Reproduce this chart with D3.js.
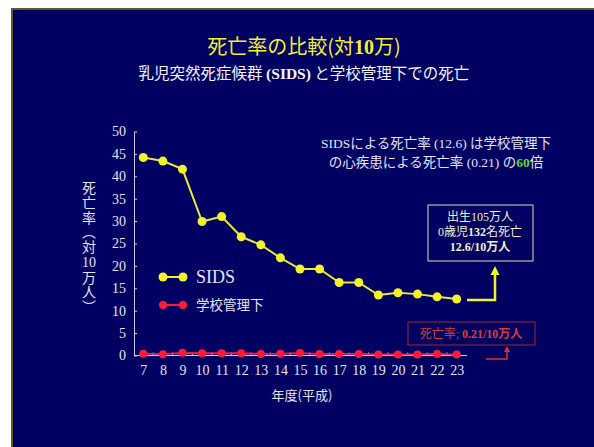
<!DOCTYPE html>
<html lang="ja">
<head>
<meta charset="utf-8">
<script src="https://cdn.jsdelivr.net/npm/d3@7"></script>
<style>
  html, body { margin: 0; padding: 0; background: #ffffff; }
  svg { display: block; }
  .vlabel { writing-mode: vertical-rl; text-orientation: mixed; }
</style>
</head>
<body>
<svg id="chart" width="594" height="447"></svg>
<script>
// 年度（平成）
const years = [7, 8, 9, 10, 11, 12, 13, 14, 15, 16, 17, 18, 19, 20, 21, 22, 23];
// 乳児突然死症候群 (SIDS) の死亡率（対10万）
const sidsRates = [44.2, 43.4, 41.6, 29.9, 31.0, 26.5, 24.7, 21.8, 19.3, 19.3, 16.3, 16.3, 13.5, 14.0, 13.7, 13.1, 12.6];
// 学校管理下の心疾患による死亡率（対10万）
const schoolRates = [0.4, 0.3, 0.6, 0.5, 0.5, 0.5, 0.35, 0.4, 0.55, 0.35, 0.35, 0.35, 0.25, 0.25, 0.25, 0.35, 0.21];
const yTicks = [0, 5, 10, 15, 20, 25, 30, 35, 40, 45, 50];
const seriesNames = ["SIDS", "学校管理下"];

const svg = d3.select("#chart");
const navy = "#000062";
const yellow = "#f2f22a";
const red = "#ff1a3a";
const pale = "#e4e4f2";
const fontMix = '"Liberation Serif", "Noto Sans CJK JP", serif';
const fontJP = '"Noto Sans CJK JP", sans-serif';

// スライド背景
svg.append("rect")
  .attr("x", 12).attr("y", 9).attr("width", 600).attr("height", 460)
  .attr("fill", navy).attr("stroke", "#5c5a2c").attr("stroke-width", 2);

// タイトル
const title = svg.append("text")
  .attr("x", 304).attr("y", 54).attr("text-anchor", "middle")
  .attr("fill", yellow).attr("font-family", fontMix).attr("font-size", 20);
title.append("tspan").attr("font-family", fontJP).text("死亡率の比較");
title.append("tspan").attr("font-family", fontJP).text("(対");
title.append("tspan").attr("font-weight", "bold").text("10");
title.append("tspan").attr("font-family", fontJP).text("万)");

const sub = svg.append("text")
  .attr("x", 304).attr("y", 79).attr("text-anchor", "middle")
  .attr("fill", "#f4f4f8").attr("font-family", fontJP).attr("font-size", 15.5);
sub.append("tspan").text("乳児突然死症候群 ");
sub.append("tspan").attr("font-family", fontMix).attr("font-weight", "bold").text("(SIDS)");
sub.append("tspan").text(" と学校管理下での死亡");

// スケール
const x = d3.scaleLinear().domain([7, 23]).range([143.3, 456.7]);
const y = d3.scaleLinear().domain([0, 50]).range([355.5, 131.5]);

// Y軸
const yAxis = svg.append("g").attr("transform", "translate(134,0)")
  .call(d3.axisLeft(y).tickValues(yTicks).tickSizeInner(-3).tickSizeOuter(0).tickPadding(8));
yAxis.select(".domain").attr("stroke", "#c8c8de").attr("stroke-width", 1);
yAxis.selectAll(".tick line").attr("stroke", "#c8c8de");
yAxis.selectAll(".tick text").attr("fill", pale).attr("font-family", fontMix).attr("font-size", 14);

// X軸
const xAxis = svg.append("g").attr("transform", "translate(0,355.5)")
  .call(d3.axisBottom(x).tickValues(years).tickSize(0).tickPadding(10));
xAxis.select(".domain").attr("d", "M134,0H467").attr("stroke", "#d8c8e8").attr("stroke-width", 1.2);
xAxis.selectAll(".tick text").attr("fill", pale).attr("font-family", fontMix).attr("font-size", 14);
// 区切りの目盛り
xAxis.selectAll(".sep").data(years.slice(0, -1)).join("line")
  .attr("class", "sep")
  .attr("x1", d => (x(d) + x(d + 1)) / 2).attr("x2", d => (x(d) + x(d + 1)) / 2)
  .attr("y1", 0).attr("y2", -3).attr("stroke", "#c8c8de");

// 軸タイトル
svg.append("text")
  .attr("x", 302).attr("y", 400).attr("text-anchor", "middle")
  .attr("fill", pale).attr("font-family", fontJP).attr("font-size", 13)
  .text("年度(平成)");

// 縦書きの軸タイトル：縦組み部分の間に横組みの「10」を挟む
svg.append("text").attr("class", "vlabel")
  .attr("x", 89).attr("y", 181)
  .attr("fill", pale).attr("font-size", 14).attr("font-family", fontJP)
  .attr("letter-spacing", 0.6)
  .text("死亡率（対");
svg.append("text")
  .attr("x", 89).attr("y", 267).attr("text-anchor", "middle")
  .attr("fill", pale).attr("font-size", 14).attr("font-family", fontMix)
  .text("10");
svg.append("text").attr("class", "vlabel")
  .attr("x", 89).attr("y", 270.5)
  .attr("fill", pale).attr("font-size", 14).attr("font-family", fontJP)
  .attr("letter-spacing", 0.6)
  .text("万人）");

// 系列
const line = d3.line().x((d, i) => x(years[i])).y(d => y(d));

svg.append("path").datum(schoolRates)
  .attr("d", line).attr("fill", "none").attr("stroke", red).attr("stroke-width", 1.8);
svg.append("g").selectAll("circle").data(schoolRates).join("circle")
  .attr("cx", (d, i) => x(years[i])).attr("cy", d => y(d)).attr("r", 4).attr("fill", red);

svg.append("path").datum(sidsRates)
  .attr("d", line).attr("fill", "none").attr("stroke", "#e8e838").attr("stroke-width", 2);
svg.append("g").selectAll("circle").data(sidsRates).join("circle")
  .attr("cx", (d, i) => x(years[i])).attr("cy", d => y(d)).attr("r", 4.5).attr("fill", yellow);

// 凡例
const legend = [
  { name: seriesNames[0], color: yellow, ly: 277, size: 18, font: '"Liberation Serif", serif', r: 4.5 },
  { name: seriesNames[1], color: red, ly: 305, size: 13.5, font: fontJP, r: 4 }
];
const lg = svg.append("g").selectAll("g").data(legend).join("g");
lg.append("line").attr("x1", 163).attr("x2", 183).attr("y1", d => d.ly).attr("y2", d => d.ly)
  .attr("stroke", d => d.color).attr("stroke-width", 2);
lg.append("circle").attr("cx", 163).attr("cy", d => d.ly).attr("r", d => d.r).attr("fill", d => d.color);
lg.append("circle").attr("cx", 183).attr("cy", d => d.ly).attr("r", d => d.r).attr("fill", d => d.color);
lg.append("text").attr("x", 196).attr("y", d => d.ly).attr("dy", "0.36em")
  .attr("fill", pale).attr("font-family", d => d.font).attr("font-size", d => d.size)
  .text(d => d.name);

// 注記（右上）
const note1 = svg.append("text").attr("x", 436).attr("y", 148).attr("text-anchor", "middle")
  .attr("fill", pale).attr("font-family", fontMix).attr("font-size", 13.5);
note1.append("tspan").text("SIDSによる死亡率 (12.6) は学校管理下");
const note2 = svg.append("text").attr("x", 436).attr("y", 167).attr("text-anchor", "middle")
  .attr("fill", pale).attr("font-family", fontMix).attr("font-size", 13.5);
note2.append("tspan").text("の心疾患による死亡率 (0.21) の");
note2.append("tspan").attr("fill", "#55dd33").attr("font-weight", "bold").text("60");
note2.append("tspan").text("倍");

// SIDS の枠
const last = years.length - 1;
svg.append("rect").attr("x", 428).attr("y", 205).attr("width", 105).attr("height", 56)
  .attr("fill", "none").attr("stroke", "#dcdcb8").attr("stroke-width", 1);
const boxColor = "#f4f0c8";
const b1 = svg.append("text").attr("x", 480).attr("y", 221).attr("text-anchor", "middle")
  .attr("fill", boxColor).attr("font-family", fontMix).attr("font-size", 12);
b1.text("出生105万人");
const b2 = svg.append("text").attr("x", 480).attr("y", 236).attr("text-anchor", "middle")
  .attr("fill", boxColor).attr("font-family", fontMix).attr("font-size", 12);
b2.append("tspan").text("0歳児");
b2.append("tspan").attr("font-weight", "bold").text("132");
b2.append("tspan").text("名死亡");
const b3 = svg.append("text").attr("x", 480).attr("y", 251).attr("text-anchor", "middle")
  .attr("fill", boxColor).attr("font-family", fontMix).attr("font-size", 12).attr("font-weight", "bold");
b3.text(sidsRates[last] + "/10万人");

// 黄色の矢印
const ay = y(sidsRates[last]) + 1;
svg.append("path")
  .attr("d", `M467,${ay}H495V273`).attr("fill", "none").attr("stroke", yellow).attr("stroke-width", 2.5);
svg.append("path").attr("d", "M495,266L490.5,275H499.5Z").attr("fill", yellow);

// 学校管理下の枠
svg.append("rect").attr("x", 408).attr("y", 322).attr("width", 127).attr("height", 23)
  .attr("fill", "none").attr("stroke", "#a02828").attr("stroke-width", 1);
const r1 = svg.append("text").attr("x", 471).attr("y", 338).attr("text-anchor", "middle")
  .attr("fill", "#d83a3a").attr("font-family", fontMix).attr("font-size", 12);
r1.append("tspan").text("死亡率; ");
r1.append("tspan").attr("font-weight", "bold").text(schoolRates[last] + "/10万人");

// 赤の矢印
svg.append("path").attr("d", "M486,359H507V350").attr("fill", "none").attr("stroke", "#e03030").attr("stroke-width", 1.5);
svg.append("path").attr("d", "M507,346L504,352H510Z").attr("fill", "#e03030");
</script>
</body>
</html>
